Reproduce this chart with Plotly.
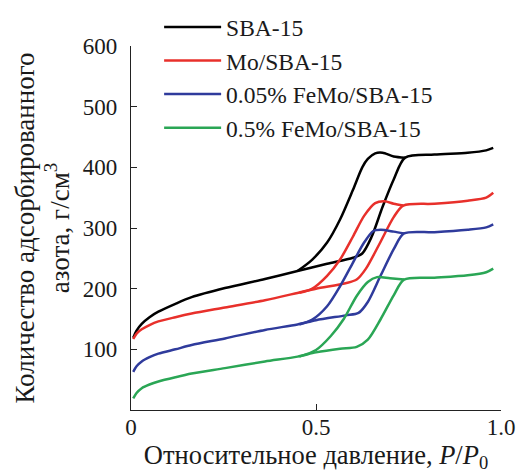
import plotly.graph_objects as go

# ---- data ----
names = ["SBA-15", "Mo/SBA-15", "0.05% FeMo/SBA-15", "0.5% FeMo/SBA-15"]
colors = ["#000000", "#e8302b", "#2f3b9c", "#2aa655"]

sba_ads_x = [0.006, 0.015, 0.029, 0.05, 0.074, 0.12, 0.164, 0.254, 0.362, 0.45, 0.53, 0.60, 0.625, 0.65, 0.68, 0.71, 0.741, 0.82, 0.91, 0.96, 0.979]
sba_ads_y = [119, 131, 142, 153, 162, 175, 186, 201, 216, 229, 241, 251, 258, 285, 335, 380, 416, 421, 424, 428, 432]
sba_des_x = [0.741, 0.71, 0.68, 0.66, 0.64, 0.625, 0.60, 0.565, 0.53, 0.49, 0.45]
sba_des_y = [416, 418, 424, 423, 414, 400, 363, 314, 276, 248, 229]

mo_ads_x = [0.006, 0.015, 0.029, 0.05, 0.074, 0.12, 0.164, 0.254, 0.362, 0.45, 0.50, 0.58, 0.61, 0.635, 0.67, 0.71, 0.736, 0.82, 0.91, 0.96, 0.979]
mo_ads_y = [117, 126, 133, 140, 146, 153, 159, 169, 181, 193, 200, 209, 215, 233, 272, 318, 337, 340, 345, 350, 358]
mo_des_x = [0.736, 0.71, 0.685, 0.66, 0.63, 0.60, 0.565, 0.53, 0.49, 0.455]
mo_des_y = [337, 340, 344, 341, 320, 286, 248, 221, 200, 193]

fe005_ads_x = [0.006, 0.015, 0.029, 0.05, 0.074, 0.12, 0.164, 0.254, 0.362, 0.45, 0.50, 0.58, 0.615, 0.64, 0.675, 0.71, 0.738, 0.82, 0.91, 0.96, 0.979]
fe005_ads_y = [63, 72, 80, 87, 93, 100, 107, 118, 132, 141, 148, 156, 160, 178, 222, 265, 291, 293, 297, 301, 306]
fe005_des_x = [0.738, 0.71, 0.675, 0.655, 0.63, 0.60, 0.565, 0.53, 0.49, 0.455]
fe005_des_y = [291, 294, 297, 295, 276, 243, 204, 171, 149, 141]

fe05_ads_x = [0.006, 0.015, 0.029, 0.05, 0.074, 0.12, 0.164, 0.254, 0.362, 0.45, 0.50, 0.565, 0.61, 0.64, 0.675, 0.71, 0.738, 0.82, 0.91, 0.96, 0.979]
fe05_ads_y = [19, 28, 36, 42, 47, 54, 60, 69, 80, 88, 95, 101, 104, 116, 150, 189, 215, 218, 222, 227, 233]
fe05_des_x = [0.738, 0.70, 0.665, 0.64, 0.61, 0.575, 0.54, 0.50, 0.455]
fe05_des_y = [215, 217, 219, 211, 188, 150, 122, 99, 88]

x_tickvals = [0, 0.5, 1.0]
x_ticktext = ["0", "0.5", "1.0"]
y_tickvals = [100, 200, 300, 400, 500, 600]

series = [
    (sba_ads_x, sba_ads_y, sba_des_x, sba_des_y),
    (mo_ads_x, mo_ads_y, mo_des_x, mo_des_y),
    (fe005_ads_x, fe005_ads_y, fe005_des_x, fe005_des_y),
    (fe05_ads_x, fe05_ads_y, fe05_des_x, fe05_des_y),
]

FONT = "Liberation Serif, Times New Roman, serif"

fig = go.Figure()
for i, (name, col, (ax, ay, dx, dy)) in enumerate(zip(names, colors, series)):
    grp = f"g{i}"
    fig.add_trace(go.Scatter(x=ax, y=ay, mode="lines", name=name, legendgroup=grp,
                             line=dict(color=col, width=2.5, shape="spline", smoothing=0.8)))
    fig.add_trace(go.Scatter(x=dx, y=dy, mode="lines", name=name, legendgroup=grp, showlegend=False,
                             line=dict(color=col, width=2.5, shape="spline", smoothing=0.8)))

fig.update_layout(
    width=517, height=475,
    margin=dict(l=131, r=16, t=46, b=65, autoexpand=False),
    paper_bgcolor="white", plot_bgcolor="white",
    font=dict(family=FONT, size=23, color="#1a1a1a"),
    showlegend=True,
    legend=dict(x=0.076, y=1.112, xanchor="left", yanchor="top",
                font=dict(family=FONT, size=23.5, color="#1a1a1a"),
                bgcolor="rgba(0,0,0,0)", itemwidth=57, tracegroupgap=0),
    xaxis=dict(range=[0, 1.0], tickvals=x_tickvals, ticktext=x_ticktext, automargin=False,
               showgrid=False, zeroline=False, showline=True, linecolor="#222", linewidth=1.3,
               ticks="inside", ticklen=6, tickwidth=1.3, tickcolor="#222",
               ticklabelstandoff=-4,
               tickfont=dict(family=FONT, size=23),
               title=dict(text="Относительное давление, <i>P</i>/<i>P</i><sub>0</sub>",
                          font=dict(family=FONT, size=26.5), standoff=6)),
    yaxis=dict(range=[0, 600], tickvals=y_tickvals, automargin=False,
               showgrid=False, zeroline=False, showline=True, linecolor="#222", linewidth=1.3,
               ticks="inside", ticklen=6, tickwidth=1.3, tickcolor="#222",
               ticklabelstandoff=8,
               tickfont=dict(family=FONT, size=23),
               title=dict(text="Количество адсорбированного<br>азота, г/см<sup>3</sup>",
                          font=dict(family=FONT, size=27), standoff=5)),
)

fig.write_html("out.html")
